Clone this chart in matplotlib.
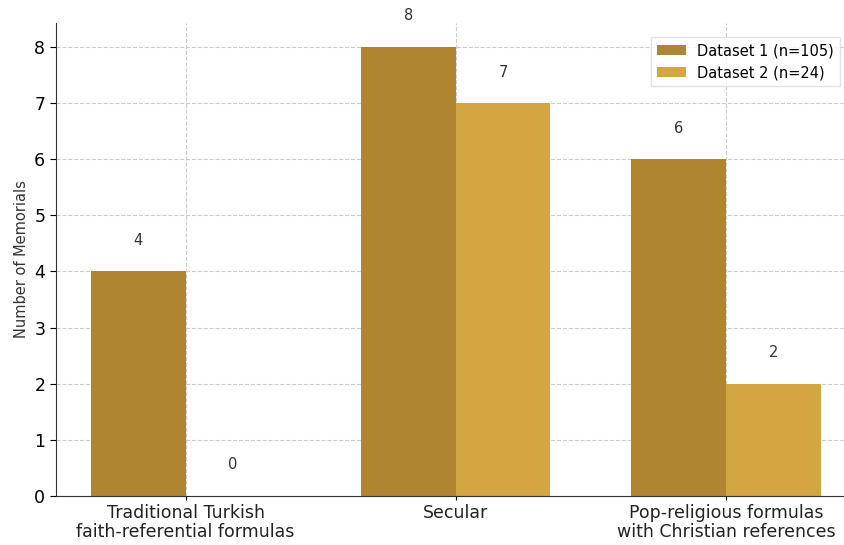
import numpy as np
import matplotlib
matplotlib.use('Agg')
import matplotlib.pyplot as plt

categories = ['Traditional Turkish\nfaith-referential formulas', 'Secular',
              'Pop-religious formulas\nwith Christian references']
dataset1 = [4, 8, 6]
dataset2 = [0, 7, 2]
labels = ['Dataset 1 (n=105)', 'Dataset 2 (n=24)']

c1 = '#b0852f'
c2 = '#d4a642'

fig = plt.figure(figsize=(8.45, 5.45), dpi=100)
ax = fig.add_axes([0.066, 0.09, 0.934, 0.868])

x = np.arange(len(categories))
w = 0.35
b1 = ax.bar(x - w / 2, dataset1, w, color=c1, label=labels[0], zorder=2)
b2 = ax.bar(x + w / 2, dataset2, w, color=c2, label=labels[1], zorder=2)

for bars, vals in [(b1, dataset1), (b2, dataset2)]:
    for r, v in zip(bars, vals):
        ax.text(r.get_x() + r.get_width() / 2, v + 0.42, str(v),
                ha='center', va='bottom', fontsize=10.5, color='#333333')

ax.set_xticks(x)
ax.set_xticklabels(categories, fontsize=12.5, color='#222222', linespacing=1.05)
ax.set_ylabel('Number of Memorials', fontsize=10.5, color='#333333')
ax.set_ylim(0, 8.43)
ax.set_xlim(-0.48, 2.44)
ax.tick_params(axis='y', labelsize=12.5, length=4)
ax.tick_params(axis='x', length=3, pad=3)
ax.grid(True, linestyle='--', color='#cccccc', linewidth=0.8, zorder=0)
ax.spines['top'].set_visible(False)
ax.spines['right'].set_visible(False)
ax.spines['left'].set_color('#333333')
ax.spines['bottom'].set_color('#333333')

ax.legend(loc='upper right', bbox_to_anchor=(1.003, 0.985), fontsize=10.5,
          frameon=True, fancybox=False, edgecolor='#dddddd')

fig.savefig('out.png', dpi=100)
